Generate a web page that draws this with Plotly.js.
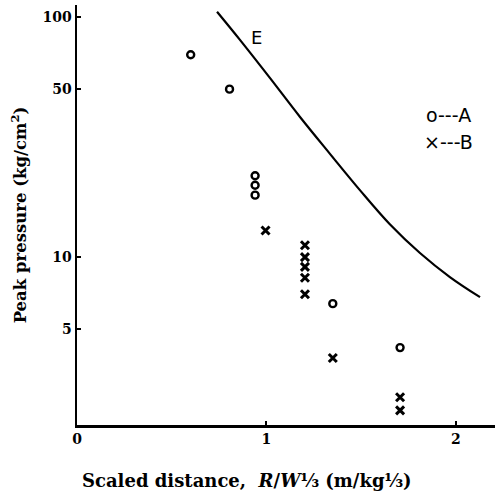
<!DOCTYPE html>
<html>
<head>
<meta charset="utf-8">
<script src="https://cdn.plot.ly/plotly-3.0.1.min.js"></script>
<style>html,body{margin:0;padding:0;background:#fff;}#chart{width:495px;height:495px;}</style>
</head>
<body>
<div id="chart"></div>
<script>
// Series A (circles)
var aX = [0.60, 0.805, 0.94, 0.94, 0.94, 1.35, 1.705];
var aY = [69.5, 50, 21.8, 19.9, 18.1, 6.4, 4.2];
// Series B (crosses)
var bX = [0.995, 1.203, 1.203, 1.203, 1.203, 1.203, 1.35, 1.705, 1.705];
var bY = [12.9, 11.2, 10.0, 9.1, 8.2, 7.0, 3.8, 2.61, 2.30];
// Curve E
var eX = [0.739, 0.860, 1.018, 1.177, 1.335, 1.493, 1.651, 1.810, 1.968, 2.127];
var eY = [105, 80.2, 55.7, 38.3, 26.9, 19.0, 13.7, 10.4, 8.26, 6.81];
// Tick labels
var xTicks = [0, 1, 2];
var yTicks = [5, 10, 50, 100];
var yTickText = ['5', '10', '50', '100'];

var serif = 'DejaVu Serif, Liberation Serif, serif';
var sans = 'DejaVu Sans, Liberation Sans, sans-serif';

var traces = [
  {x: eX, y: eY, mode: 'lines', line: {color: '#000', width: 2.2, shape: 'spline', smoothing: 1.0}, showlegend: false, hoverinfo: 'skip'},
  {x: aX, y: aY, mode: 'markers', name: 'A', marker: {symbol: 'circle-open', size: 7, color: '#000', line: {width: 2.4, color: '#000'}}, showlegend: false},
  {x: bX, y: bY, mode: 'markers', name: 'B', marker: {symbol: 'x-thin', size: 8, color: '#000', line: {width: 3, color: '#000'}}, showlegend: false}
];

var layout = {
  width: 495, height: 495,
  margin: {l: 77, r: 0, t: 5, b: 70},
  paper_bgcolor: '#fff', plot_bgcolor: '#fff',
  showlegend: false,
  xaxis: {
    range: [0, 2.206], tickvals: xTicks, ticktext: xTicks.map(String),
    showgrid: false, zeroline: false, showline: true, linecolor: '#000', linewidth: 2.5,
    ticks: 'inside', ticklen: 4, tickwidth: 2, tickcolor: '#000',
    tickfont: {family: serif, size: 14, color: '#000', weight: 'bold'},
    automargin: false
  },
  yaxis: {
    type: 'log', range: [Math.log10(2), Math.log10(112)],
    tickvals: yTicks, ticktext: yTickText,
    showgrid: false, zeroline: false, showline: true, linecolor: '#000', linewidth: 2.5,
    ticks: 'inside', ticklen: 4, tickwidth: 2, tickcolor: '#000',
    tickfont: {family: serif, size: 14, color: '#000', weight: 'bold'},
    title: {text: 'Peak pressure (kg/cm<sup>2</sup>)', font: {family: serif, size: 16.5, color: '#000', weight: 'bold'}, standoff: 12},
    automargin: false
  },
  annotations: [
    {x: 0.407, y: -0.133, xref: 'paper', yref: 'paper', xanchor: 'center', yanchor: 'middle', text: 'Scaled distance,  <i>R</i>/<i>W</i>⅓ (m/kg⅓)', showarrow: false, font: {family: serif, size: 18, color: '#000', weight: 'bold'}},
    {x: 0.945, y: Math.log10(81.7), xref: 'x', yref: 'y', text: 'E', showarrow: false, font: {family: sans, size: 18, color: '#000'}},
    {x: 1.962, y: Math.log10(39.1), xref: 'x', yref: 'y', text: 'o---A', showarrow: false, font: {family: sans, size: 19, color: '#000'}},
    {x: 1.962, y: Math.log10(30.1), xref: 'x', yref: 'y', text: '×---B', showarrow: false, font: {family: sans, size: 19, color: '#000'}}
  ]
};

Plotly.newPlot('chart', traces, layout, {staticPlot: true, displayModeBar: false});
</script>
</body>
</html>
